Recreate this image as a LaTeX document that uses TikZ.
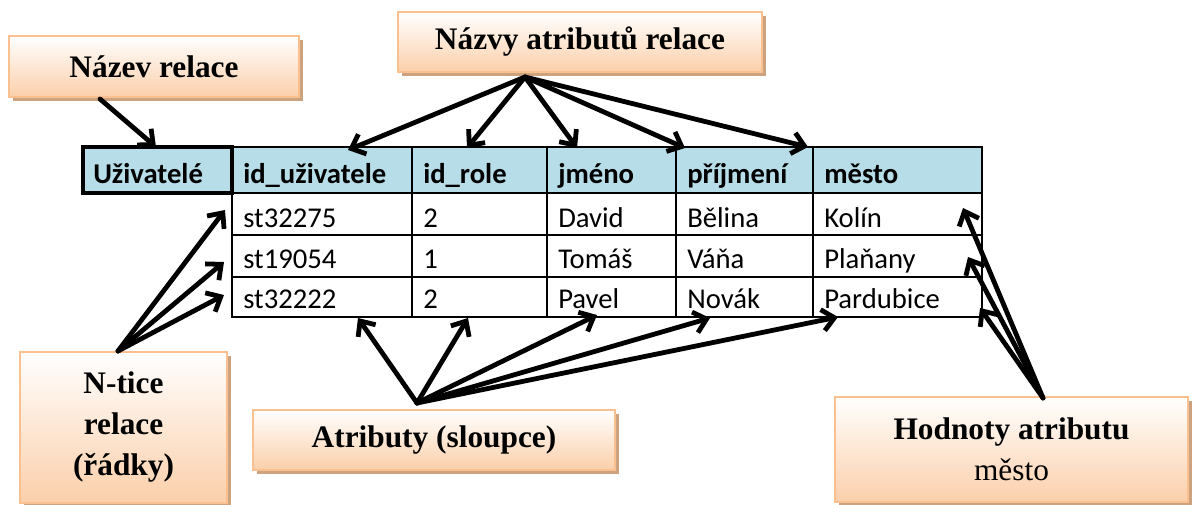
\documentclass[tikz,border=0pt]{standalone}
\usepackage{fontspec}
\setmainfont{Liberation Serif}
\newfontfamily\tablefont{Carlito}
\usetikzlibrary{arrows.meta}
\usetikzlibrary{shadows}

\definecolor{headblue}{HTML}{B7DDE8}
\definecolor{boxedge}{HTML}{FAC090}
\definecolor{boxpeach}{HTML}{FBCFAA}
\definecolor{boxshade}{HTML}{CDA27F}

\tikzset{
  labelbox/.style={draw=boxedge, line width=1.5pt, top color=white, bottom color=boxpeach,
    align=center, inner sep=0pt, font=\fontsize{23.5}{30.75}\selectfont,
    drop shadow={shadow xshift=3pt, shadow yshift=-3pt, fill=boxshade, opacity=1}},
  celltext/.style={anchor=base west, inner sep=0pt, font=\tablefont\fontsize{21.5}{24}\selectfont},
  headtext/.style={anchor=base west, inner sep=0pt, font=\tablefont\bfseries\fontsize{21.5}{24}\selectfont},
  pointer/.style={line width=3.6pt, line cap=round, -{Straight Barb[length=9pt,width=16pt]}},
}

\begin{document}
\begin{tikzpicture}[x=0.75pt, y=-0.75pt]
    \useasboundingbox (0,0) rectangle (1192,504);
    % rows and columns of the table
    \def\ya{147}
    \def\yb{193}
    \def\yc{235}
    \def\yd{277}
    \def\ye{317}
    \def\xa{232}
    \def\xb{412}
    \def\xc{547}
    \def\xd{676}
    \def\xe{813}
    \def\xf{982}
    \def\pad{11}

    % header fill and relation name cell
    \fill[headblue] (\xa,\ya) rectangle (\xf,\yb);
    \filldraw[fill=headblue, draw=black, line width=2.6pt] (83,\ya) rectangle (\xa,\yb);
    \draw[line width=1.4pt] (\xa,\ya) rectangle (\xf,\ye);
    \draw[line width=1.4pt] (\xa,\yb) -- (\xf,\yb);
    \draw[line width=1.4pt] (\xa,\yc) -- (\xf,\yc);
    \draw[line width=1.4pt] (\xa,\yd) -- (\xf,\yd);
    \draw[line width=1.4pt] (\xb,\ya) -- (\xb,\ye);
    \draw[line width=1.4pt] (\xc,\ya) -- (\xc,\ye);
    \draw[line width=1.4pt] (\xd,\ya) -- (\xd,\ye);
    \draw[line width=1.4pt] (\xe,\ya) -- (\xe,\ye);

    \node[headtext] (relname) at (93,183) {Uživatelé};
    \node[headtext] (hid) at (\xa+\pad,183) {id\_uživatele};
    \node[headtext] (hrole) at (\xb+\pad,183) {id\_role};
    \node[headtext] (hname) at (\xc+\pad,183) {jméno};
    \node[headtext] (hsurname) at (\xd+\pad,183) {příjmení};
    \node[headtext] (hcity) at (\xe+\pad,183) {město};

    \node[celltext] (ida) at (\xa+\pad,227) {st32275};
    \node[celltext] (idb) at (\xa+\pad,268) {st19054};
    \node[celltext] (idc) at (\xa+\pad,308) {st32222};
    \node[celltext] (rolea) at (\xb+\pad,227) {2};
    \node[celltext] (roleb) at (\xb+\pad,268) {1};
    \node[celltext] (rolec) at (\xb+\pad,308) {2};
    \node[celltext] (namea) at (\xc+\pad,227) {David};
    \node[celltext] (nameb) at (\xc+\pad,268) {Tomáš};
    \node[celltext] (namec) at (\xc+\pad,308) {Pavel};
    \node[celltext] (surnamea) at (\xd+\pad,227) {Bělina};
    \node[celltext] (surnameb) at (\xd+\pad,268) {Váňa};
    \node[celltext] (surnamec) at (\xd+\pad,308) {Novák};
    \node[celltext] (citya) at (\xe+\pad,227) {Kolín};
    \node[celltext] (cityb) at (\xe+\pad,268) {Plaňany};
    \node[celltext] (cityc) at (\xe+\pad,308) {Pardubice};

    % callout boxes
    \node[labelbox, minimum width=217.5pt, minimum height=45.75pt] (nameBox) at (154,66.5) {\bfseries Název relace};
    \node[labelbox, minimum width=273pt, minimum height=45pt] (attrNamesBox) at (580,42) {\bfseries Názvy atributů relace};
    \node[labelbox, minimum width=155.25pt, minimum height=113.25pt] (tuplesBox) at (123.5,427.5) {\bfseries N-tice\\ \bfseries relace\\ \bfseries (řádky)};
    \node[labelbox, minimum width=271.5pt, minimum height=45pt] (columnsBox) at (434,440) {\bfseries Atributy (sloupce)};
    \node[labelbox, minimum width=264.75pt, minimum height=78.75pt] (valuesBox) at (1011.5,449.5) {\bfseries Hodnoty atributu\\ město};

    % arrow hubs and tips
    \coordinate (nameFrom) at (100,99);
    \coordinate (nameTip) at (156,147);
    \coordinate (namesHub) at (525,77);
    \coordinate (tipId) at (348,150);
    \coordinate (tipRole) at (467,148);
    \coordinate (tipName) at (577,148);
    \coordinate (tipSurname) at (685,148);
    \coordinate (tipCity) at (808,147);
    \coordinate (tuplesHub) at (118,351);
    \coordinate (tipRowA) at (225,210);
    \coordinate (tipRowB) at (224,262);
    \coordinate (tipRowC) at (224,295);
    \coordinate (columnsHub) at (417,403);
    \coordinate (tipColA) at (358,318);
    \coordinate (tipColB) at (468,318);
    \coordinate (tipColC) at (597,315);
    \coordinate (tipColD) at (710,318);
    \coordinate (tipColE) at (838,317);
    \coordinate (valuesHub) at (1043,398);
    \coordinate (tipValA) at (963,208);
    \coordinate (tipValB) at (968,257);
    \coordinate (tipValC) at (980,308);

    \draw[pointer] (nameFrom) -- (nameTip);
    \draw[pointer] (namesHub) -- (tipId);
    \draw[pointer] (namesHub) -- (tipRole);
    \draw[pointer] (namesHub) -- (tipName);
    \draw[pointer] (namesHub) -- (tipSurname);
    \draw[pointer] (namesHub) -- (tipCity);
    \draw[pointer] (tuplesHub) -- (tipRowA);
    \draw[pointer] (tuplesHub) -- (tipRowB);
    \draw[pointer] (tuplesHub) -- (tipRowC);
    \draw[pointer] (columnsHub) -- (tipColA);
    \draw[pointer] (columnsHub) -- (tipColB);
    \draw[pointer] (columnsHub) -- (tipColC);
    \draw[pointer] (columnsHub) -- (tipColD);
    \draw[pointer] (columnsHub) -- (tipColE);
    \draw[pointer] (valuesHub) -- (tipValA);
    \draw[pointer] (valuesHub) -- (tipValB);
    \draw[pointer] (valuesHub) -- (tipValC);
\end{tikzpicture}
\end{document}
